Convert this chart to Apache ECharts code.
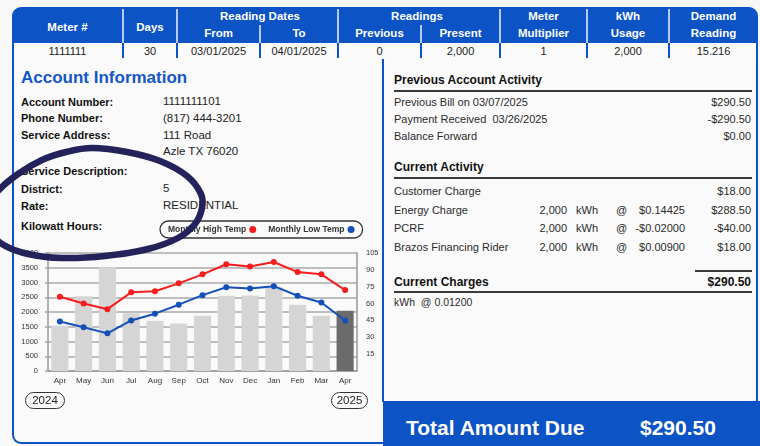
<!DOCTYPE html>
<html><head><meta charset="utf-8">
<script src="https://cdn.jsdelivr.net/npm/echarts@6/dist/echarts.min.js"></script>
<style>
html,body{margin:0;padding:0;}
body{width:760px;height:446px;position:relative;overflow:hidden;background:#f8f8f8;font-family:"Liberation Sans",Arial,sans-serif;color:#222;}
.t{position:absolute;white-space:nowrap;line-height:14px;height:14px;}
.b{font-weight:bold;}
.hc{position:absolute;color:#fff;font-weight:bold;font-size:11.5px;line-height:14px;text-align:center;white-space:nowrap;}
.dc{position:absolute;font-size:11px;line-height:14px;text-align:center;top:44px;color:#222;}
.vd{position:absolute;width:2px;background:#b9c9ee;}
.vb{position:absolute;width:2px;background:#0c53c5;}
.lab{font-size:11px;font-weight:bold;color:#111;left:21px;}
.val{font-size:11.5px;color:#222;left:163px;}
.rl{font-size:11px;color:#2a2a2a;left:394px;}
.ra{font-size:11px;color:#2a2a2a;right:9px;text-align:right;}
.rh{font-size:12px;font-weight:bold;color:#111;left:394px;}
.hr{position:absolute;left:394px;width:358px;height:2px;background:#3a3a3a;}
.pill{position:absolute;border:1.5px solid #333;border-radius:10px;font-size:11.5px;line-height:15px;text-align:center;color:#222;background:#fafafa;}
</style></head>
<body>
<!-- header -->
<div style="position:absolute;left:12px;top:7px;width:746px;height:36px;background:#0c53c5;border-radius:9px 9px 0 0;"></div>
<div class="vd" style="left:122px;top:9px;height:34px"></div>
<div class="vd" style="left:176px;top:9px;height:34px"></div>
<div class="vd" style="left:259px;top:25px;height:18px"></div>
<div class="vd" style="left:337px;top:9px;height:34px"></div>
<div class="vd" style="left:420px;top:25px;height:18px"></div>
<div class="vd" style="left:499px;top:9px;height:34px"></div>
<div class="vd" style="left:586px;top:9px;height:34px"></div>
<div class="vd" style="left:668px;top:9px;height:34px"></div>
<div class="hc" style="left:12px;width:111px;top:20px">Meter #</div>
<div class="hc" style="left:123px;width:54px;top:20px">Days</div>
<div class="hc" style="left:177px;width:166px;top:9px">Reading Dates</div>
<div class="hc" style="left:177px;width:83px;top:26px">From</div>
<div class="hc" style="left:260px;width:78px;top:26px">To</div>
<div class="hc" style="left:338px;width:158px;top:9px">Readings</div>
<div class="hc" style="left:338px;width:83px;top:26px">Previous</div>
<div class="hc" style="left:421px;width:79px;top:26px">Present</div>
<div class="hc" style="left:500px;width:87px;top:9px">Meter</div>
<div class="hc" style="left:500px;width:87px;top:26px">Multiplier</div>
<div class="hc" style="left:587px;width:82px;top:9px">kWh</div>
<div class="hc" style="left:587px;width:82px;top:26px">Usage</div>
<div class="hc" style="left:669px;width:89px;top:9px">Demand</div>
<div class="hc" style="left:669px;width:89px;top:26px">Reading</div>
<!-- data row -->
<div style="position:absolute;left:12px;top:43px;width:742px;height:15px;background:#fbfbfb;border:2px solid #0c53c5;border-top:none;"></div>
<div class="vb" style="left:122px;top:43px;height:16px"></div>
<div class="vb" style="left:176px;top:43px;height:16px"></div>
<div class="vb" style="left:259px;top:43px;height:16px"></div>
<div class="vb" style="left:337px;top:43px;height:16px"></div>
<div class="vb" style="left:420px;top:43px;height:16px"></div>
<div class="vb" style="left:499px;top:43px;height:16px"></div>
<div class="vb" style="left:586px;top:43px;height:16px"></div>
<div class="vb" style="left:668px;top:43px;height:16px"></div>
<div class="dc" style="left:12px;width:111px">1111111</div>
<div class="dc" style="left:123px;width:54px">30</div>
<div class="dc" style="left:177px;width:83px">03/01/2025</div>
<div class="dc" style="left:260px;width:78px">04/01/2025</div>
<div class="dc" style="left:338px;width:83px">0</div>
<div class="dc" style="left:421px;width:79px">2,000</div>
<div class="dc" style="left:500px;width:87px">1</div>
<div class="dc" style="left:587px;width:82px">2,000</div>
<div class="dc" style="left:669px;width:89px">15.216</div>
<!-- main box -->
<div style="position:absolute;left:12px;top:58px;width:742px;height:384px;border:2px solid #0c53c5;border-top:none;border-radius:0 0 9px 9px;background:#fafafa;"></div>
<div class="vb" style="left:382px;top:59px;height:343px"></div>
<!-- left panel -->
<div class="t b" style="left:21px;top:68px;height:20px;line-height:20px;font-size:17px;color:#1356c6;">Account Information</div>
<div class="t lab" style="top:95px">Account Number:</div><div class="t val" style="top:94px">1111111101</div>
<div class="t lab" style="top:111px">Phone Number:</div><div class="t val" style="top:111px">(817) 444-3201</div>
<div class="t lab" style="top:128px">Service Address:</div><div class="t val" style="top:128px">111 Road</div>
<div class="t val" style="top:144px">Azle TX 76020</div>
<div class="t lab" style="top:164px">Service Description:</div>
<div class="t lab" style="top:182px">District:</div><div class="t val" style="top:181px">5</div>
<div class="t lab" style="top:199px">Rate:</div><div class="t val" style="top:198px">RESIDENTIAL</div>
<div class="t lab" style="top:219px">Kilowatt Hours:</div>
<div id="chart" style="position:absolute;left:0;top:215px;width:384px;height:185px;"></div>
<div class="pill" style="left:25px;top:392px;width:38px;height:15px;">2024</div>
<div class="pill" style="left:331px;top:392px;width:35px;height:15px;">2025</div>
<!-- right panel -->
<div class="t rh" style="top:73px">Previous Account Activity</div>
<div class="hr" style="top:90px"></div>
<div class="t rl" style="top:95px">Previous Bill on 03/07/2025</div><div class="t ra" style="top:95px">$290.50</div>
<div class="t rl" style="top:112px">Payment Received&nbsp; 03/26/2025</div><div class="t ra" style="top:112px">-$290.50</div>
<div class="t rl" style="top:129px">Balance Forward</div><div class="t ra" style="top:129px">$0.00</div>
<div class="t rh" style="top:160px">Current Activity</div>
<div class="hr" style="top:177px"></div>
<div class="t rl" style="top:184px">Customer Charge</div><div class="t ra" style="top:184px">$18.00</div>
<div class="t rl" style="top:203px">Energy Charge</div>
<div class="t rl" style="top:203px;left:auto;right:193px">2,000</div><div class="t rl" style="top:203px;left:576px">kWh</div><div class="t rl" style="top:203px;left:616px">@</div>
<div class="t rl" style="top:203px;left:auto;right:75px">$0.14425</div><div class="t ra" style="top:203px">$288.50</div>
<div class="t rl" style="top:221px">PCRF</div>
<div class="t rl" style="top:221px;left:auto;right:193px">2,000</div><div class="t rl" style="top:221px;left:576px">kWh</div><div class="t rl" style="top:221px;left:616px">@</div>
<div class="t rl" style="top:221px;left:auto;right:75px">-$0.02000</div><div class="t ra" style="top:221px">-$40.00</div>
<div class="t rl" style="top:240px">Brazos Financing Rider</div>
<div class="t rl" style="top:240px;left:auto;right:193px">2,000</div><div class="t rl" style="top:240px;left:576px">kWh</div><div class="t rl" style="top:240px;left:616px">@</div>
<div class="t rl" style="top:240px;left:auto;right:75px">$0.00900</div><div class="t ra" style="top:240px">$18.00</div>
<div style="position:absolute;left:695px;top:270px;width:57px;height:2px;background:#3a3a3a;"></div>
<div class="t rh" style="top:275px">Current Charges</div><div class="t ra b" style="top:275px;font-size:12px;color:#111;">$290.50</div>
<div class="hr" style="top:291px"></div>
<div class="t rl" style="top:295px;font-size:10.5px">kWh&nbsp; @ 0.01200</div>
<div style="position:absolute;left:383px;top:401px;width:377px;height:45px;background:#0c53c5;"></div>
<div class="t b" style="left:406px;top:415px;height:26px;line-height:26px;font-size:21px;color:#fff;">Total Amount Due</div>
<div class="t b" style="left:640px;top:415px;height:26px;line-height:26px;font-size:21px;color:#fff;">$290.50</div>
<svg width="760" height="446" style="position:absolute;left:0;top:0;pointer-events:none;">
<path id="loop" fill="none" stroke="#23225a" stroke-width="6.5" stroke-linejoin="round"/>
</svg>
<script>
const months = ['Apr','May','Jun','Jul','Aug','Sep','Oct','Nov','Dec','Jan','Feb','Mar','Apr'];
const kwhUsage = [1540, 2530, 3520, 1960, 1700, 1610, 1870, 2550, 2560, 2840, 2250, 1870, 2040];
const highTemp = [66, 60, 55, 70, 71, 78, 86, 95, 93, 97, 88, 86, 72];
const lowTemp = [44, 39, 33.5, 45, 51, 59, 67.5, 74.5, 73.5, 75.5, 67, 61, 45];
const seriesNames = ['Monthly High Temp', 'Monthly Low Temp'];

// hand-drawn annotation loop (decorative, not data)
(function () {
  const p = [[92,148],[127,152],[160,161],[187,176],[201,194],[202,208],[195,224],[178,238],[148,249],[105,256],[62,258],[28,254],[2,244],[-12,228],[-13,210],[-3,192],[18,174],[42,160],[66,152]];
  const n = p.length;
  let d = 'M' + p[0][0] + ',' + p[0][1];
  for (let i = 0; i < n; i++) {
    const p0 = p[(i - 1 + n) % n], p1 = p[i], p2 = p[(i + 1) % n], p3 = p[(i + 2) % n];
    const c1 = [p1[0] + (p2[0] - p0[0]) / 6, p1[1] + (p2[1] - p0[1]) / 6];
    const c2 = [p2[0] - (p3[0] - p1[0]) / 6, p2[1] - (p3[1] - p1[1]) / 6];
    d += ' C' + c1.join(',') + ' ' + c2.join(',') + ' ' + p2.join(',');
  }
  document.getElementById('loop').setAttribute('d', d + ' Z');
})();

const chart = echarts.init(document.getElementById('chart'));
const lastIdx = kwhUsage.length - 1;
chart.setOption({
  animation: false,
  textStyle: {fontFamily: 'Liberation Sans, Arial, sans-serif'},
  legend: {
    data: seriesNames, left: 160, top: 6, icon: 'circle', align: 'right',
    itemWidth: 7, itemHeight: 7, itemGap: 12,
    padding: [4, 8], borderColor: '#333', borderWidth: 1.3, borderRadius: 10,
    backgroundColor: '#fafafa',
    textStyle: {fontSize: 8.5, fontWeight: 'bold', color: '#333', padding: [0, -2, 0, 0]}
  },
  grid: {left: 48, right: 27, top: 38, bottom: 29},
  xAxis: {
    type: 'category', data: months,
    axisLine: {lineStyle: {color: '#999', width: 1.5}},
    axisTick: {show: false},
    axisLabel: {interval: 0, fontSize: 8, color: '#333', margin: 6}
  },
  yAxis: [{
    type: 'value', min: 0, max: 4000, interval: 500,
    axisLine: {show: true, lineStyle: {color: '#999', width: 1.5}},
    axisTick: {show: true, length: 3, lineStyle: {color: '#aaa', width: 1.5}},
    axisLabel: {fontSize: 7.5, color: '#333', margin: 10, formatter: v => String(v)},
    splitLine: {lineStyle: {color: '#aaa', width: 1.5}}
  }, {
    type: 'value', min: 0, max: 105, interval: 15, position: 'right',
    axisLine: {show: true, lineStyle: {color: '#999', width: 1.5}},
    axisTick: {show: false},
    axisLabel: {fontSize: 7.5, color: '#333', margin: 9, formatter: v => v === 0 ? '' : String(v)},
    splitLine: {show: false}
  }],
  series: [{
    type: 'bar', name: 'kWh', yAxisIndex: 0, barWidth: '72%',
    data: kwhUsage.map((v, i) => i === lastIdx ? {value: v, itemStyle: {color: '#6b6b6b'}} : v),
    itemStyle: {color: '#d5d5d5'}
  }, {
    type: 'line', name: seriesNames[0], yAxisIndex: 1, data: highTemp,
    symbol: 'circle', symbolSize: 6,
    lineStyle: {color: '#f51d1d', width: 2}, itemStyle: {color: '#f51d1d'}
  }, {
    type: 'line', name: seriesNames[1], yAxisIndex: 1, data: lowTemp,
    symbol: 'circle', symbolSize: 6,
    lineStyle: {color: '#1450b8', width: 2}, itemStyle: {color: '#1450b8'}
  }]
});
</script>
</body></html>
